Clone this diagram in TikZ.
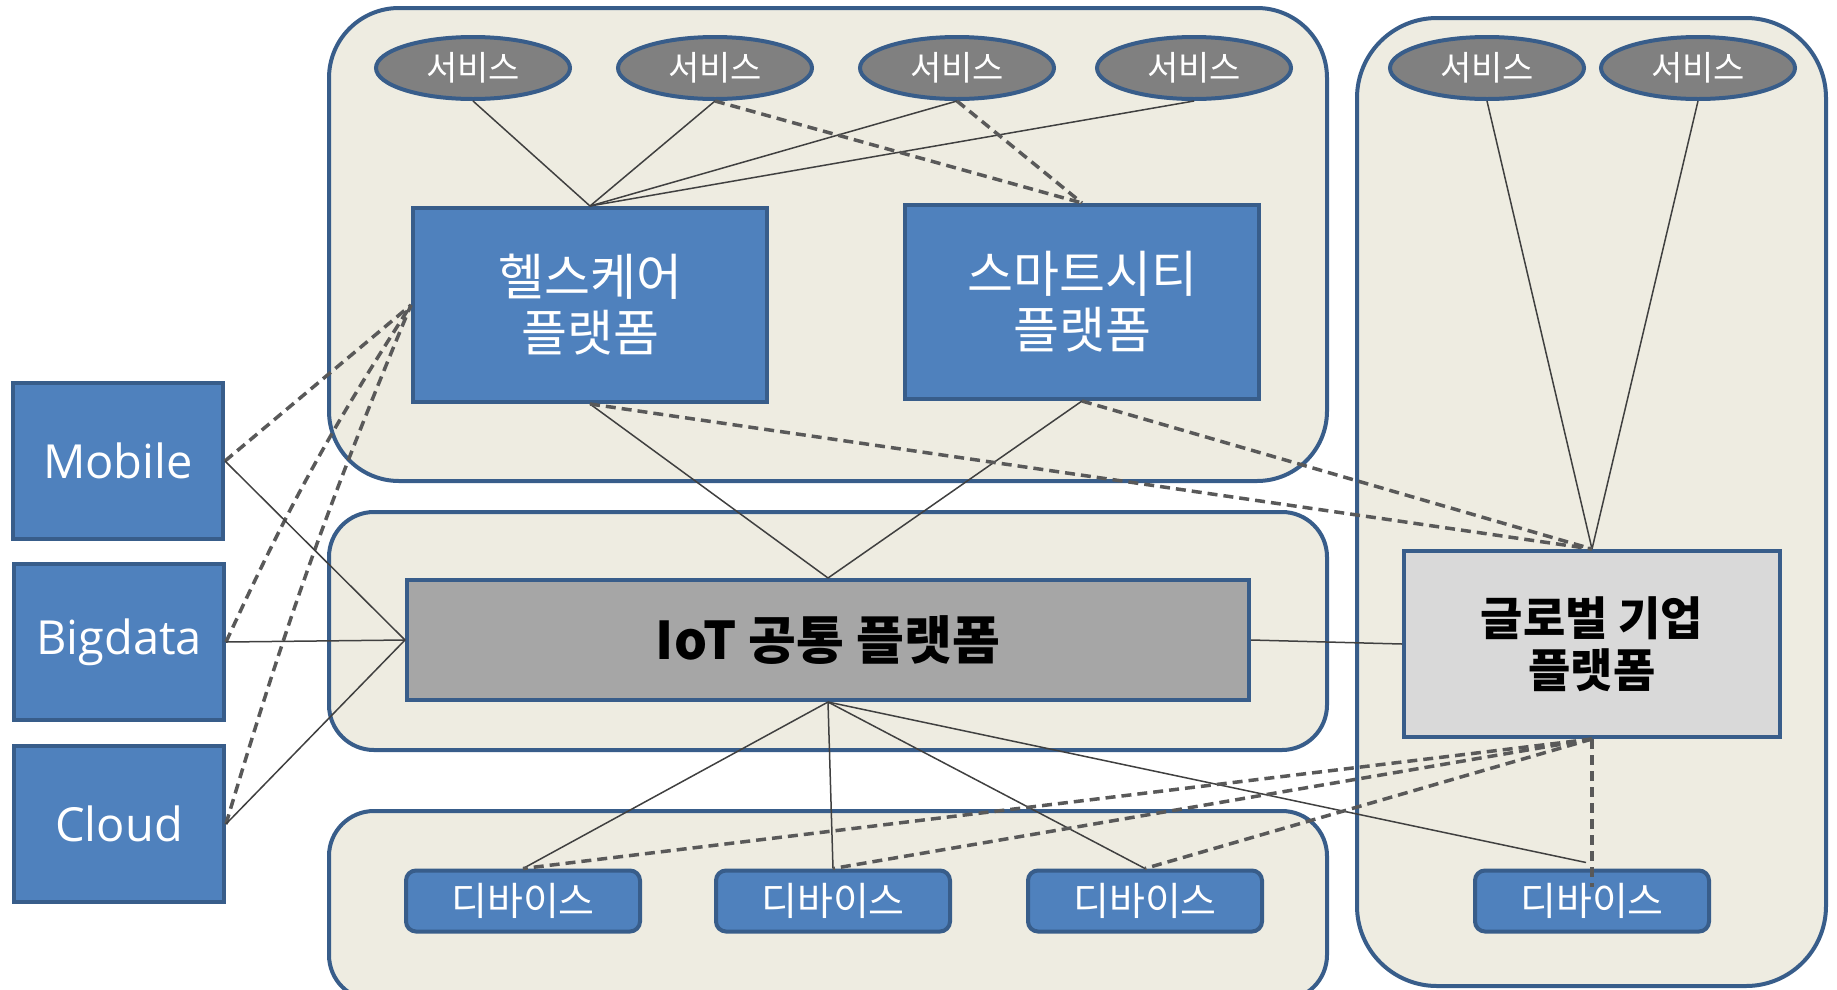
\documentclass[tikz,border=0pt]{standalone}
\usepackage{fontspec}
\setmainfont{Noto Sans CJK KR}
\newfontfamily\latinf{Open Sans}
\usetikzlibrary{shapes.geometric}
\definecolor{bgcont}{HTML}{EEECE1}
\definecolor{bord}{HTML}{385D8A}
\definecolor{bluebox}{HTML}{4F81BD}
\definecolor{svcgray}{HTML}{808080}
\definecolor{iotgray}{HTML}{A6A6A6}
\definecolor{globgray}{HTML}{D9D9D9}
\definecolor{conn}{HTML}{404040}
\definecolor{dconn}{HTML}{595959}
\tikzset{
  container/.style={draw=bord, line width=4pt, fill=bgcont},
  svc/.style={ellipse, draw=bord, line width=4pt, fill=svcgray, text=white,
    minimum width=194pt, minimum height=62pt, inner sep=0pt,
    font=\fontsize{34}{38}\selectfont},
  bbox/.style={draw=bord, line width=4pt, fill=bluebox, text=white, inner sep=0pt, align=center},
  platbox/.style={bbox, minimum width=354pt, minimum height=194pt,
    font=\fontsize{50}{56}\selectfont},
  srcbox/.style={bbox, minimum width=210pt, minimum height=156pt,
    font=\latinf\fontsize{47}{50}\selectfont},
  devbox/.style={bbox, rounded corners=10pt, minimum width=234pt, minimum height=61pt,
    font=\fontsize{39}{42}\selectfont},
  solidc/.style={draw=conn, line width=1.5pt},
  dashc/.style={draw=dconn, line width=3.5pt, dash pattern=on 10pt off 6pt}
}
\begin{document}
\begin{tikzpicture}[x=1pt, y=-1pt]
\useasboundingbox (0,0) rectangle (1837,989);
\fill[white] (0,0) rectangle (1837,989);
% containers
\draw[container, rounded corners=70pt] (329,8) rectangle (1327,481);
\draw[container, rounded corners=45pt] (329,512) rectangle (1327,750);
\draw[container, rounded corners=45pt] (329,811) rectangle (1327,1000);
\draw[container, rounded corners=80pt] (1357,18) rectangle (1826,986);
% services
\node[svc] (s1) at (473,68) {서비스};
\node[svc] (s2) at (715,68) {서비스};
\node[svc] (s3) at (957,68) {서비스};
\node[svc] (s4) at (1194,68) {서비스};
\node[svc] (s5) at (1487,68) {서비스};
\node[svc] (s6) at (1698,68) {서비스};
% platforms
\node[platbox] (hc) at (590,305) {헬스케어\\플랫폼};
\node[platbox] (sc) at (1082,302) {스마트시티\\플랫폼};
\node[bbox, fill=iotgray, text=black, minimum width=842pt, minimum height=120pt,
  font=\bfseries\fontsize{52}{56}\selectfont] (iot) at (828,640) {IoT 공통 플랫폼};
\node[bbox, fill=globgray, text=black, minimum width=376pt, minimum height=186pt,
  font=\bfseries\fontsize{46}{52}\selectfont] (glob) at (1592,644) {글로벌 기업\\플랫폼};
% sources
\node[srcbox] (mob) at (118,461) {Mobile};
\node[srcbox] (big) at (119,642) {Bigdata};
\node[srcbox] (cld) at (119,824) {Cloud};
% devices
\node[devbox] (d1) at (523,901) {디바이스};
\node[devbox] (d2) at (833,901) {디바이스};
\node[devbox] (d3) at (1145,901) {디바이스};
\node[devbox] (d4) at (1592,901) {디바이스};
% connectors: services
\draw[solidc] (s1.south) -- (hc.north);
\draw[solidc] (s2.south) -- (hc.north);
\draw[solidc] (s3.south) -- (hc.north);
\draw[solidc] (s4.south) -- (hc.north);
\draw[dashc] (s2.south) -- (sc.north);
\draw[dashc] (s3.south) -- (sc.north);
\draw[solidc] (s5.south) -- (glob.north);
\draw[solidc] (s6.south) -- (glob.north);
% platforms
\draw[solidc] (hc.south) -- (iot.north);
\draw[solidc] (sc.south) -- (iot.north);
\draw[dashc] (hc.south) -- (glob.north);
\draw[dashc] (sc.south) -- (glob.north);
\draw[solidc] (iot.east) -- (glob.west);
% sources
\draw[dashc] (mob.east) -- (hc.west);
\draw[dashc] (big.east) to[bend left=4] (hc.west);
\draw[dashc] (cld.east) to[bend left=3] (hc.west);
\draw[solidc] (mob.east) -- (iot.west);
\draw[solidc] (big.east) -- (iot.west);
\draw[solidc] (cld.east) -- (iot.west);
% devices
\draw[solidc] (iot.south) -- (d1.north);
\draw[solidc] (iot.south) -- (d2.north);
\draw[solidc] (iot.south) -- (d3.north);
\draw[solidc] (iot.south) -- ([xshift=-6pt,yshift=6pt]d4.north);
\draw[dashc] (glob.south) -- (d1.north);
\draw[dashc] (glob.south) -- (d2.north);
\draw[dashc] (glob.south) -- (d3.north);
\draw[dashc] (glob.south) -- ([yshift=-18pt]d4.north);
\end{tikzpicture}
\end{document}
